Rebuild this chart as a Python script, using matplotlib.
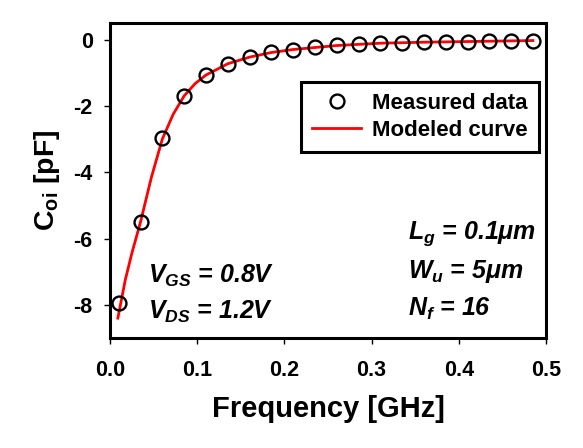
import numpy as np
import matplotlib
matplotlib.use('Agg')
from matplotlib import pyplot as plt

plt.rcParams['font.family'] = ['Liberation Sans', 'DejaVu Sans']
plt.rcParams['font.weight'] = 'bold'
plt.rcParams['axes.unicode_minus'] = False
plt.rcParams['mathtext.fontset'] = 'custom'
plt.rcParams['mathtext.rm'] = 'Liberation Sans:bold'
plt.rcParams['mathtext.it'] = 'Liberation Sans:italic:bold'
plt.rcParams['mathtext.bf'] = 'Liberation Sans:bold'

# measured points
freq_meas = [0.010, 0.035, 0.060, 0.085, 0.110, 0.135, 0.160, 0.185, 0.210, 0.235,
             0.260, 0.285, 0.310, 0.335, 0.360, 0.385, 0.410, 0.435, 0.460, 0.485]
coi_meas = [-7.95, -5.50, -2.98, -1.70, -1.07, -0.73, -0.53, -0.38, -0.30, -0.22,
            -0.17, -0.14, -0.11, -0.09, -0.08, -0.07, -0.06, -0.05, -0.05, -0.03]

# modeled curve
freq_model = [0.009, 0.0175, 0.025, 0.035, 0.0475, 0.060, 0.0725, 0.085, 0.0975,
              0.110, 0.135, 0.160, 0.185, 0.210, 0.260, 0.310, 0.360, 0.410, 0.460, 0.485]
coi_model = [-8.40, -7.25, -6.45, -5.50, -4.15, -3.00, -2.25, -1.70, -1.33,
             -1.07, -0.73, -0.53, -0.39, -0.30, -0.18, -0.11, -0.08, -0.06, -0.04, -0.03]

fig = plt.figure(figsize=(5.83, 4.48), dpi=100)
ax = fig.add_axes([0.1887, 0.2455, 0.7478, 0.7032])

ax.plot(freq_model, coi_model, color='red', lw=2, label='Modeled curve', zorder=2)
ax.plot(freq_meas, coi_meas, 'o', mfc='none', mec='black', mew=1.7, ms=10,
        label='Measured data', zorder=3)

ax.set_xlim(0, 0.5)
ax.set_ylim(-9, 0.5)
ax.set_xticks([0.0, 0.1, 0.2, 0.3, 0.4, 0.5])
ax.set_xticklabels(['0.0', '0.1', '0.2', '0.3', '0.4', '0.5'])
ax.set_yticks([0, -2, -4, -6, -8])
ax.tick_params(direction='out', length=4, width=1, labelsize=15.5)
ax.tick_params(axis='x', pad=12)
ax.tick_params(axis='y', pad=8.5)
for s in ax.spines.values():
    s.set_linewidth(2.2)

ax.set_xlabel('Frequency [GHz]', fontsize=21, fontweight='bold', labelpad=10)
ax.set_ylabel(r'C$_{\mathrm{oi}}$ [pF]', fontsize=20.5, fontweight='bold', labelpad=8)

h, l = ax.get_legend_handles_labels()
leg = ax.legend(h[::-1], l[::-1], loc='upper right', bbox_to_anchor=(0.984, 0.813),
                fontsize=16, frameon=True, fancybox=False, edgecolor='black',
                framealpha=1, handlelength=2.2, handletextpad=0.5, borderpad=0.5,
                labelspacing=0.25, borderaxespad=0)
leg.get_frame().set_linewidth(2.2)

kw = dict(fontsize=18, fontweight='bold', fontstyle='italic')
ax.text(0.044, -7.33, r'$V_{GS}$ = 0.8V', **kw)
ax.text(0.044, -8.42, r'$V_{DS}$ = 1.2V', **kw)
ax.text(0.342, -6.0, r'$L_{g}$ = 0.1μm', **kw)
ax.text(0.342, -7.18, r'$W_{u}$ = 5μm', **kw)
ax.text(0.342, -8.33, r'$N_{f}$ = 16', **kw)

plt.savefig('out.png', dpi=100)
plt.close()
